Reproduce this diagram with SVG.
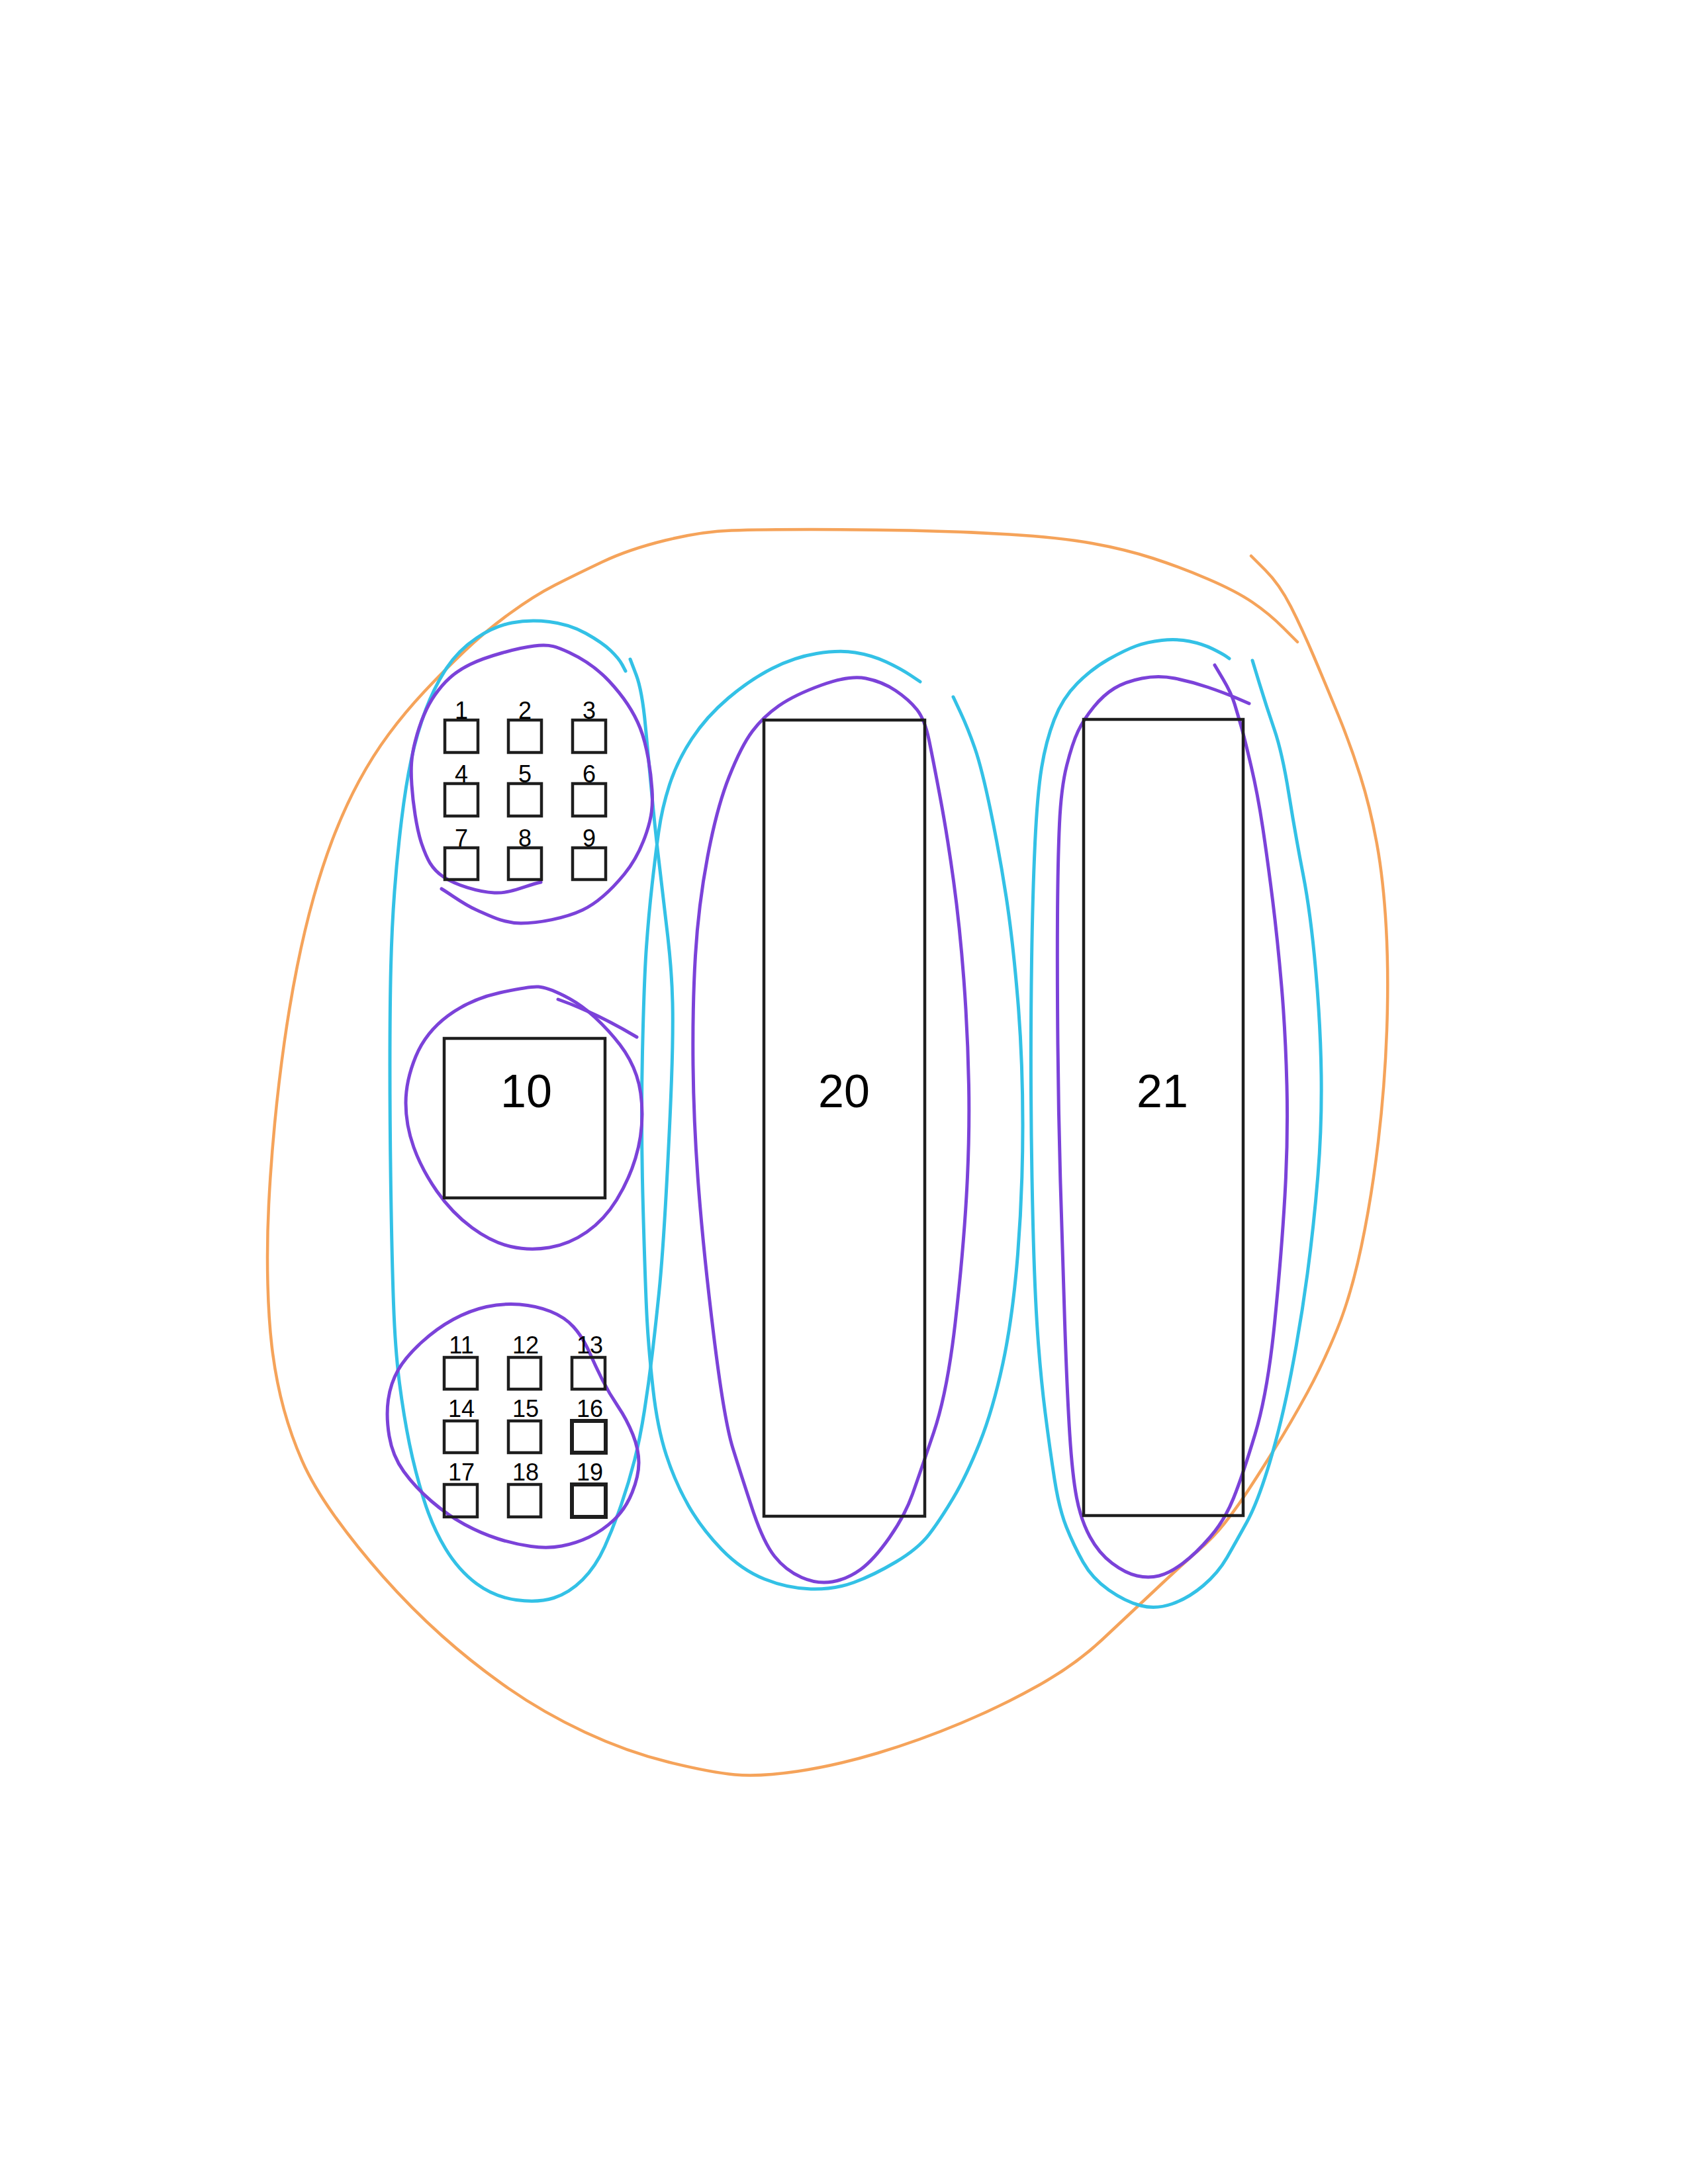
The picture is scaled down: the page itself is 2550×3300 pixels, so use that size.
<svg xmlns="http://www.w3.org/2000/svg" width="2550" height="3300" viewBox="0 0 2550 3300">
<style>
.box{fill:none;stroke:#1e1e1e;stroke-width:4.5}
.box.b{stroke-width:6}
.s{font-family:"Liberation Sans",Arial,sans-serif;font-size:36px;fill:#000;text-anchor:middle}
.l{font-family:"Liberation Sans",Arial,sans-serif;font-size:70px;fill:#000;text-anchor:middle}
.pen{fill:none;stroke-linecap:round;stroke-linejoin:round}
.or{stroke:#f5a35a;stroke-width:4.5}
.cy{stroke:#33c1e6;stroke-width:5}
.pu{stroke:#7b42d9;stroke-width:5}
</style>
<rect width="2550" height="3300" fill="#fff"/>
<g id="outlines">
<path class="pen or" d="M1960,970 L1938.5,948.5 Q1917,927 1892,910 Q1867,893 1825,875 Q1783,857 1741.5,843.5 Q1700,830 1650,821 Q1600,812 1525,807.5 Q1450,803 1375,801.5 Q1300,800 1225,800 Q1150,800 1105,801.5 Q1060,803 1005,816.5 Q950,830 910,849 Q870,868 838.5,884 Q807,900 770,927 Q733,954 701.5,984 Q670,1014 641,1045 Q612,1076 587.5,1109 Q563,1142 542.5,1180 Q522,1218 505,1261.5 Q488,1305 474,1355 Q460,1405 449,1460 Q438,1515 429.5,1575 Q421,1635 415,1697.5 Q409,1760 406,1820 Q403,1880 404.5,1940 Q406,2000 412,2045 Q418,2090 429,2130 Q440,2170 456.5,2207.5 Q473,2245 505,2290 Q537,2335 579,2382.5 Q621,2430 668,2472 Q715,2514 768,2551 Q821,2588 884,2617.5 Q947,2647 1010,2662.5 Q1073,2678 1110,2681.5 Q1147,2685 1204.5,2676.5 Q1262,2668 1325.5,2649 Q1389,2630 1452,2603.5 Q1515,2577 1570,2546 Q1625,2515 1665,2477.5 Q1705,2440 1746,2401.5 Q1787,2363 1810,2343 Q1833,2323 1850,2301.5 Q1867,2280 1883.5,2255 Q1900,2230 1925,2190 Q1950,2150 1974.5,2105 Q1999,2060 2020,2008.5 Q2041,1957 2056.5,1883.5 Q2072,1810 2082,1725.5 Q2092,1641 2095,1557 Q2098,1473 2094,1401.5 Q2090,1330 2080,1275 Q2070,1220 2055,1172.5 Q2040,1125 2021.5,1080 Q2003,1035 1985,992.5 Q1967,950 1950,916.5 Q1933,883 1911.5,861.5 L1890,840"/>
<path class="pen cy" d="M945,1014 L940,1004.5 Q935,995 922.5,983 Q910,971 885,957 Q860,943 830,939.5 Q800,936 773.5,941 Q747,946 720,964 Q693,982 675,1009 Q657,1036 643.5,1071.5 Q630,1107 621.5,1146.5 Q613,1186 606.5,1239.5 Q600,1293 596,1346.5 Q592,1400 590.5,1460 Q589,1520 589,1610 Q589,1700 590.5,1800 Q592,1900 594.5,1970 Q597,2040 603.5,2090 Q610,2140 618.5,2181.5 Q627,2223 640,2265 Q653,2307 673,2340 Q693,2373 720,2393 Q747,2413 780,2417.5 Q813,2422 836.5,2414.5 Q860,2407 880,2387 Q900,2367 913.5,2337 Q927,2307 938.5,2273.5 Q950,2240 958.5,2206.5 Q967,2173 973.5,2131.5 Q980,2090 985,2048.5 Q990,2007 995.5,1953.5 Q1001,1900 1006.5,1800 Q1012,1700 1014.5,1630 Q1017,1560 1016,1515 Q1015,1470 1009,1417 Q1003,1364 996.5,1310.5 Q990,1257 985,1203.5 Q980,1150 975,1096.5 Q970,1043 961,1019.5 L952,996"/>
<path class="pen cy" d="M1390,1030 L1375,1020 Q1360,1010 1338.5,1000 Q1317,990 1292,986 Q1267,982 1233.5,987.5 Q1200,993 1166.5,1010 Q1133,1027 1100,1055 Q1067,1083 1045,1116.5 Q1023,1150 1011.5,1185.5 Q1000,1221 995,1257 Q990,1293 985,1337.5 Q980,1382 976.5,1431 Q973,1480 970.5,1590 Q968,1700 971.5,1825 Q975,1950 977.5,1995 Q980,2040 986.5,2098.5 Q993,2157 1006.5,2198.5 Q1020,2240 1040,2275 Q1060,2310 1090,2341 Q1120,2372 1155,2386 Q1190,2400 1225,2401 Q1260,2402 1290,2391 Q1320,2380 1353.5,2360 Q1387,2340 1403.5,2318.5 Q1420,2297 1440,2263.5 Q1460,2230 1480,2180 Q1500,2130 1515,2060 Q1530,1990 1537.5,1895 Q1545,1800 1545,1700 Q1545,1600 1537.5,1510 Q1530,1420 1520,1355 Q1510,1290 1496.5,1225 Q1483,1160 1472.5,1130 Q1462,1100 1451,1076.5 L1440,1053"/>
<path class="pen cy" d="M1857,995 L1852,991.5 Q1847,988 1832,980.5 Q1817,973 1797,969 Q1777,965 1755,967.5 Q1733,970 1716.5,976 Q1700,982 1675,996 Q1650,1010 1627.5,1032.5 Q1605,1055 1592.5,1087.5 Q1580,1120 1573.5,1160 Q1567,1200 1563.5,1275 Q1560,1350 1558.5,1450 Q1557,1550 1557.5,1650 Q1558,1750 1560.5,1850 Q1563,1950 1567.5,2015 Q1572,2080 1579,2135 Q1586,2190 1593,2235 Q1600,2280 1611,2307.5 Q1622,2335 1636,2360 Q1650,2385 1675,2402.5 Q1700,2420 1723,2426 Q1746,2432 1770.5,2423.5 Q1795,2415 1817.5,2396 Q1840,2377 1853.5,2353.5 Q1867,2330 1883.5,2300 Q1900,2270 1918,2210 Q1936,2150 1950.5,2075 Q1965,2000 1975,1925 Q1985,1850 1991,1775 Q1997,1700 1996,1625 Q1995,1550 1987.5,1465 Q1980,1380 1968.5,1321 Q1957,1262 1947,1199.5 Q1937,1137 1925,1102 Q1913,1067 1902.5,1032.5 L1892,998"/>
<path class="pen pu" d="M817,1333 C794,1338 771.5,1350.3 747,1349 S688.3,1337.3 670,1325 S645,1298.2 637,1275 S623.7,1211.7 622,1186 S621.2,1143.7 627,1121 S643.2,1069.5 657,1050 S685,1016.3 710,1004 S782,979 807,976 S841.2,977.2 860,986 S902.2,1010 920,1029 S956.2,1072.7 967,1100 S983.3,1166.8 985,1193 S984,1235.7 977,1257 S959.2,1301.3 943,1321 S906,1362.7 880,1375 S813.7,1395 787,1395 S740,1383.7 720,1375 S684.7,1353.7 667,1343"/>
<path class="pen pu" d="M813.5,1491 Q800,1490 755,1500 Q710,1510 676.5,1535 Q643,1560 628,1596.5 Q613,1633 613,1666.5 Q613,1700 625,1733.5 Q637,1767 660,1800 Q683,1833 713,1855 Q743,1877 771.5,1883.5 Q800,1890 830,1885 Q860,1880 886.5,1861.5 Q913,1843 931.5,1813 Q950,1783 960,1750 Q970,1717 970,1683.5 Q970,1650 961.5,1625 Q953,1600 936.5,1578.5 Q920,1557 898.5,1537 Q877,1517 852,1504.5 Q827,1492 813.5,1491 Z"/>
<path class="pen pu" d="M843,1510 Q900,1530 962,1567"/>
<path class="pen pu" d="M735,1974.5 Q760,1969 785,1971 Q810,1973 831.5,1981.5 Q853,1990 866.5,2005 Q880,2020 890,2042.5 Q900,2065 910,2085 Q920,2105 933.5,2125 Q947,2145 956,2167.5 Q965,2190 965,2210 Q965,2230 955,2255 Q945,2280 927.5,2296.5 Q910,2313 890,2322.5 Q870,2332 848.5,2336 Q827,2340 802,2336.5 Q777,2333 752,2325 Q727,2317 702,2303.5 Q677,2290 652,2268.5 Q627,2247 610,2223.5 Q593,2200 588,2170 Q583,2140 586.5,2115 Q590,2090 601.5,2070 Q613,2050 636.5,2028.5 Q660,2007 685,1993.5 Q710,1980 735,1974.5 Z"/>
<path class="pen pu" d="M1385,1072 Q1397,1087 1403.5,1118.5 Q1410,1150 1420.5,1206 Q1431,1262 1440.5,1331 Q1450,1400 1456,1480 Q1462,1560 1463.5,1640 Q1465,1720 1460,1807 Q1455,1894 1443,1999 Q1431,2104 1410.5,2164.5 Q1390,2225 1378.5,2257.5 Q1367,2290 1343.5,2323.5 Q1320,2357 1300,2371.5 Q1280,2386 1257.5,2390 Q1235,2394 1211,2383.5 Q1187,2373 1170,2351.5 Q1153,2330 1136.5,2280 Q1120,2230 1107,2188 Q1094,2146 1078.5,2020 Q1063,1894 1055.5,1797 Q1048,1700 1047,1610 Q1046,1520 1050.5,1444 Q1055,1368 1069,1294 Q1083,1220 1101.5,1173.5 Q1120,1127 1136.5,1105 Q1153,1083 1176.5,1066.5 Q1200,1050 1241.5,1035 Q1283,1020 1308,1025 Q1333,1030 1353,1043.5 Q1373,1057 1385,1072 Z"/>
<path class="pen pu" d="M1835,1005 L1847.5,1026 Q1860,1047 1865,1063.5 Q1870,1080 1875,1097.5 Q1880,1115 1890,1157.5 Q1900,1200 1907.5,1250 Q1915,1300 1922.5,1360 Q1930,1420 1936,1490 Q1942,1560 1944,1640 Q1946,1720 1941,1807 Q1936,1894 1925.5,1999 Q1915,2104 1896,2167 Q1877,2230 1863.5,2263.5 Q1850,2297 1828.5,2322 Q1807,2347 1787,2362 Q1767,2377 1751,2381 Q1735,2385 1717.5,2381 Q1700,2377 1680,2362 Q1660,2347 1646.5,2322 Q1633,2297 1626.5,2263.5 Q1620,2230 1616,2167 Q1612,2104 1608.5,1999 Q1605,1894 1602,1788.5 Q1599,1683 1598,1578 Q1597,1473 1597.5,1386.5 Q1598,1300 1600.5,1245 Q1603,1190 1611.5,1156.5 Q1620,1123 1628.5,1105 Q1637,1087 1652,1068.5 Q1667,1050 1683.5,1040 Q1700,1030 1725,1025 Q1750,1020 1775,1025 Q1800,1030 1825,1038.5 Q1850,1047 1868.5,1055 L1887,1063"/>
</g>
<g id="node-1"><rect class="box" x="672" y="1088" width="50" height="49"/><text class="s" x="697" y="1086">1</text></g>
<g id="node-2"><rect class="box" x="768" y="1088" width="50" height="49"/><text class="s" x="793" y="1086">2</text></g>
<g id="node-3"><rect class="box" x="865" y="1088" width="50" height="49"/><text class="s" x="890" y="1086">3</text></g>
<g id="node-4"><rect class="box" x="672" y="1184" width="50" height="49"/><text class="s" x="697" y="1182">4</text></g>
<g id="node-5"><rect class="box" x="768" y="1184" width="50" height="49"/><text class="s" x="793" y="1182">5</text></g>
<g id="node-6"><rect class="box" x="865" y="1184" width="50" height="49"/><text class="s" x="890" y="1182">6</text></g>
<g id="node-7"><rect class="box" x="672" y="1281" width="50" height="48"/><text class="s" x="697" y="1279">7</text></g>
<g id="node-8"><rect class="box" x="768" y="1281" width="50" height="48"/><text class="s" x="793" y="1279">8</text></g>
<g id="node-9"><rect class="box" x="865" y="1281" width="50" height="48"/><text class="s" x="890" y="1279">9</text></g>
<g id="node-10"><rect class="box" x="671" y="1569" width="243" height="241"/><text class="l" x="795" y="1673">10</text></g>
<g id="node-11"><rect class="box" x="671" y="2051" width="50" height="48"/><text class="s" x="697" y="2045">11</text></g>
<g id="node-12"><rect class="box" x="768" y="2051" width="49" height="48"/><text class="s" x="794" y="2045">12</text></g>
<g id="node-13"><rect class="box" x="864" y="2051" width="50" height="48"/><text class="s" x="891" y="2045">13</text></g>
<g id="node-14"><rect class="box" x="671" y="2147" width="50" height="48"/><text class="s" x="697" y="2141">14</text></g>
<g id="node-15"><rect class="box" x="768" y="2147" width="49" height="48"/><text class="s" x="794" y="2141">15</text></g>
<g id="node-16"><rect class="box b" x="864" y="2147" width="51" height="48"/><text class="s" x="891" y="2141">16</text></g>
<g id="node-17"><rect class="box" x="671" y="2243" width="50" height="49"/><text class="s" x="697" y="2237">17</text></g>
<g id="node-18"><rect class="box" x="768" y="2243" width="49" height="49"/><text class="s" x="794" y="2237">18</text></g>
<g id="node-19"><rect class="box b" x="864" y="2243" width="51" height="49"/><text class="s" x="891" y="2237">19</text></g>
<g id="node-20"><rect class="box" x="1154" y="1088" width="243" height="1203"/><text class="l" x="1275" y="1673">20</text></g>
<g id="node-21"><rect class="box" x="1637" y="1087" width="241" height="1203"/><text class="l" x="1756" y="1673">21</text></g>
</svg>
